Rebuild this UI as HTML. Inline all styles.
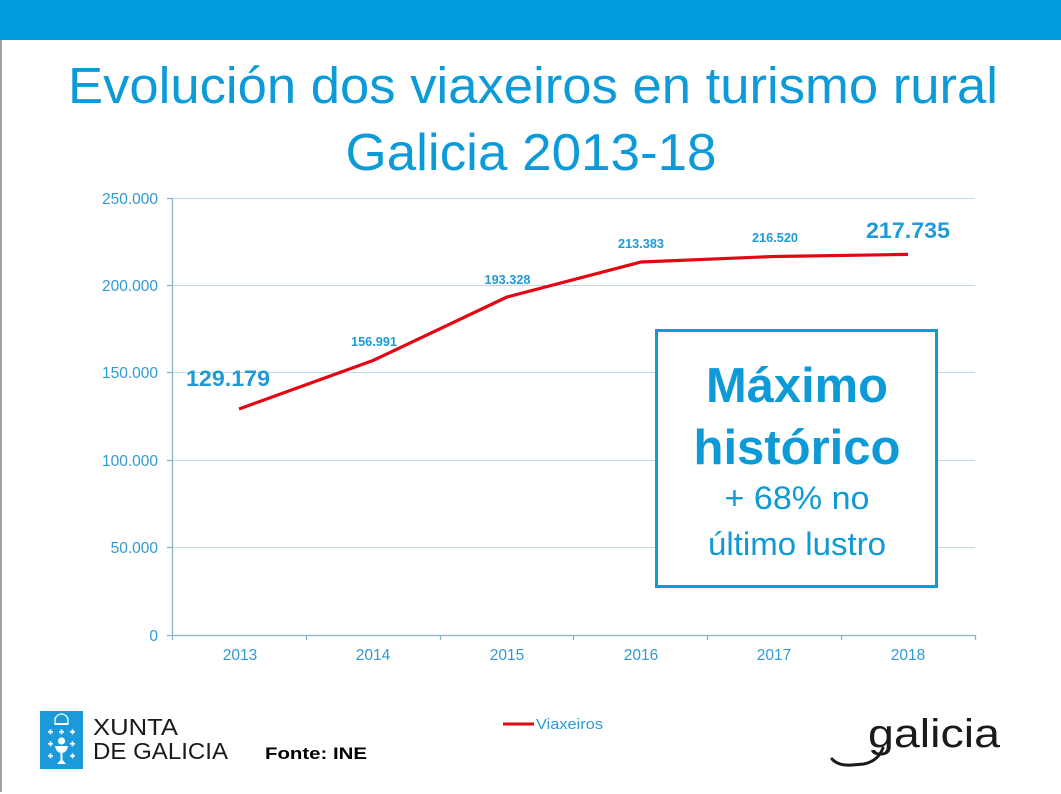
<!DOCTYPE html>
<html>
<head>
<meta charset="utf-8">
<style>
html,body{margin:0;padding:0;background:#fff;}
body{width:1061px;height:794px;overflow:hidden;}
svg{display:block;}
text{font-family:"Liberation Sans",Arial,sans-serif;}
</style>
</head>
<body>
<svg width="1061" height="794" viewBox="0 0 1061 794" xmlns="http://www.w3.org/2000/svg">
  <rect x="0" y="0" width="1061" height="794" fill="#ffffff"/>
  <!-- top bar -->
  <rect x="0" y="0" width="1061" height="40" fill="#019CDE"/>
  <!-- left gray border -->
  <rect x="0" y="40" width="2" height="752" fill="#a0a0a0"/>

  <!-- title -->
  <text x="533" y="103" font-size="51" fill="#0C9BD8" text-anchor="middle" textLength="930" lengthAdjust="spacingAndGlyphs">Evolución dos viaxeiros en turismo rural</text>
  <text x="531" y="170" font-size="52" fill="#0C9BD8" text-anchor="middle" textLength="371" lengthAdjust="spacingAndGlyphs">Galicia 2013-18</text>

  <!-- gridlines -->
  <g stroke="#C3D8E6" stroke-width="1">
    <line x1="172" y1="198.5" x2="975" y2="198.5"/>
    <line x1="172" y1="285.5" x2="975" y2="285.5"/>
    <line x1="172" y1="372.5" x2="975" y2="372.5"/>
    <line x1="172" y1="460.5" x2="975" y2="460.5"/>
    <line x1="172" y1="547.5" x2="975" y2="547.5"/>
  </g>
  <!-- axes -->
  <g stroke="#8DB2CC" stroke-width="1.3">
    <line x1="172.5" y1="198" x2="172.5" y2="635"/>
    <line x1="172" y1="635.5" x2="975" y2="635.5"/>
    <!-- y ticks -->
    <line x1="167" y1="198.5" x2="172" y2="198.5"/>
    <line x1="167" y1="285.5" x2="172" y2="285.5"/>
    <line x1="167" y1="372.5" x2="172" y2="372.5"/>
    <line x1="167" y1="460.5" x2="172" y2="460.5"/>
    <line x1="167" y1="547.5" x2="172" y2="547.5"/>
    <line x1="167" y1="635.5" x2="172" y2="635.5"/>
    <!-- x ticks -->
    <line x1="172.5" y1="635" x2="172.5" y2="640"/>
    <line x1="306.5" y1="635" x2="306.5" y2="640"/>
    <line x1="440.5" y1="635" x2="440.5" y2="640"/>
    <line x1="573.5" y1="635" x2="573.5" y2="640"/>
    <line x1="707.5" y1="635" x2="707.5" y2="640"/>
    <line x1="841.5" y1="635" x2="841.5" y2="640"/>
    <line x1="975.5" y1="635" x2="975.5" y2="640"/>
  </g>

  <!-- y labels -->
  <g font-size="15.5" fill="#2E9AD4" text-anchor="end">
    <text x="158" y="204">250.000</text>
    <text x="158" y="291">200.000</text>
    <text x="158" y="378">150.000</text>
    <text x="158" y="466">100.000</text>
    <text x="158" y="553">50.000</text>
    <text x="158" y="641">0</text>
  </g>
  <!-- x labels -->
  <g font-size="15.5" fill="#2E9AD4" text-anchor="middle">
    <text x="240" y="660">2013</text>
    <text x="373" y="660">2014</text>
    <text x="507" y="660">2015</text>
    <text x="641" y="660">2016</text>
    <text x="774" y="660">2017</text>
    <text x="908" y="660">2018</text>
  </g>

  <!-- series line -->
  <polyline points="239,409 373,360.5 507,297 641,262 774,256.5 908,254.4" fill="none" stroke="#E30613" stroke-width="3.2" stroke-linejoin="round"/>

  <!-- data labels -->
  <g fill="#1E9AD6" font-weight="bold" text-anchor="middle">
    <text x="228" y="386" font-size="22" textLength="84" lengthAdjust="spacingAndGlyphs">129.179</text>
    <text x="374" y="346" font-size="12.5" textLength="46" lengthAdjust="spacingAndGlyphs">156.991</text>
    <text x="507.5" y="284" font-size="12.5" textLength="46" lengthAdjust="spacingAndGlyphs">193.328</text>
    <text x="641" y="248" font-size="12.5" textLength="46" lengthAdjust="spacingAndGlyphs">213.383</text>
    <text x="775" y="242" font-size="12.5" textLength="46" lengthAdjust="spacingAndGlyphs">216.520</text>
    <text x="908" y="238" font-size="22" textLength="84" lengthAdjust="spacingAndGlyphs">217.735</text>
  </g>

  <!-- callout box -->
  <rect x="656.5" y="330.5" width="280" height="256" fill="#ffffff" stroke="#0E9AD6" stroke-width="3"/>
  <g fill="#0E9AD6" text-anchor="middle">
    <text x="797" y="402" font-size="49" font-weight="bold" textLength="182" lengthAdjust="spacingAndGlyphs">Máximo</text>
    <text x="797" y="464" font-size="49" font-weight="bold" textLength="207" lengthAdjust="spacingAndGlyphs">histórico</text>
    <text x="797" y="509" font-size="32" textLength="145" lengthAdjust="spacingAndGlyphs">+ 68% no</text>
    <text x="797" y="555" font-size="32" textLength="178" lengthAdjust="spacingAndGlyphs">último lustro</text>
  </g>

  <!-- legend -->
  <line x1="503" y1="724" x2="534" y2="724" stroke="#E30613" stroke-width="3"/>
  <text x="536" y="729" font-size="15" fill="#2E9AD4" textLength="67" lengthAdjust="spacingAndGlyphs">Viaxeiros</text>

  <!-- Xunta logo -->
  <rect x="40" y="711" width="43" height="58" fill="#1B9ADB"/>
  <g fill="#ffffff">
    <!-- crown -->
    <path d="M55,724 L55,719 Q57,714 61.5,714 Q66,714 68,719 L68,724 Z" fill="none" stroke="#fff" stroke-width="1.3"/>
    <rect x="55" y="723" width="13" height="2"/>
    <!-- crosses -->
    <g>
      <rect x="48" y="731" width="5" height="1.6"/><rect x="49.7" y="729.3" width="1.6" height="5"/>
      <rect x="59" y="731" width="5" height="1.6"/><rect x="60.7" y="729.3" width="1.6" height="5"/>
      <rect x="70" y="731" width="5" height="1.6"/><rect x="71.7" y="729.3" width="1.6" height="5"/>
      <rect x="48" y="743" width="5" height="1.6"/><rect x="49.7" y="741.3" width="1.6" height="5"/>
      <rect x="70" y="743" width="5" height="1.6"/><rect x="71.7" y="741.3" width="1.6" height="5"/>
      <rect x="48" y="755" width="5" height="1.6"/><rect x="49.7" y="753.3" width="1.6" height="5"/>
      <rect x="70" y="755" width="5" height="1.6"/><rect x="71.7" y="753.3" width="1.6" height="5"/>
    </g>
    <!-- chalice -->
    <circle cx="61.5" cy="741" r="3.6"/>
    <path d="M55,746 L68,746 Q67,752 62.5,753 L62.5,760 L66,764 L57,764 L60.5,760 L60.5,753 Q56,752 55,746 Z"/>
  </g>
  <text x="93" y="735" font-size="23" fill="#1a1a1a" textLength="85" lengthAdjust="spacingAndGlyphs">XUNTA</text>
  <text x="93" y="759" font-size="23" fill="#1a1a1a" textLength="135" lengthAdjust="spacingAndGlyphs">DE GALICIA</text>

  <!-- source -->
  <text x="265" y="759" font-size="17" font-weight="bold" fill="#000" textLength="102" lengthAdjust="spacingAndGlyphs">Fonte: INE</text>

  <!-- galicia logo -->
  <text x="868" y="747" font-size="40" fill="#1a1a1a" textLength="132" lengthAdjust="spacingAndGlyphs">galicia</text>
  <path d="M832,759 Q838,766 852,765 L864,764 Q878,761 883,748" fill="none" stroke="#1a1a1a" stroke-width="3" stroke-linecap="round"/>
</svg>
</body>
</html>
